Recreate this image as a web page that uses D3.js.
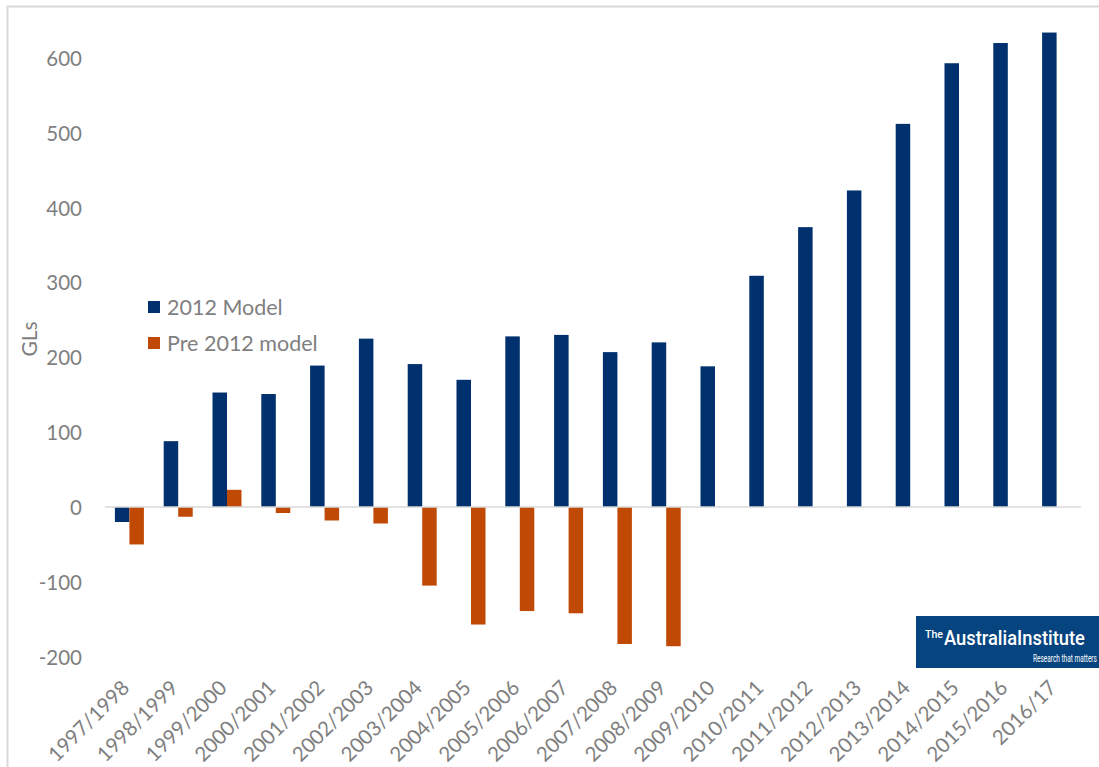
<!DOCTYPE html>
<html>
<head>
<meta charset="utf-8">
<script src="https://cdn.jsdelivr.net/npm/d3@7"></script>
<style>
  html, body { margin: 0; padding: 0; background: #fff; }
  svg { display: block; }
</style>
</head>
<body>
<svg id="chart" width="1099" height="767"></svg>
<script>
const categories = ["1997/1998","1998/1999","1999/2000","2000/2001","2001/2002","2002/2003","2003/2004","2004/2005","2005/2006","2006/2007","2007/2008","2008/2009","2009/2010","2010/2011","2011/2012","2012/2013","2013/2014","2014/2015","2015/2016","2016/17"];
const model2012 = [-20, 88, 153, 151, 189, 225, 191, 170, 228, 230, 207, 220, 188, 309, 374, 423, 512, 593, 620, 634];
const pre2012 = [-50, -13, 23, -8, -18, -22, -105, -157, -139, -142, -183, -186, null, null, null, null, null, null, null, null];
const seriesNames = ["2012 Model", "Pre 2012 model"];
const seriesColors = ["#00306e", "#c04a05"];
const yTicks = [-200, -100, 0, 100, 200, 300, 400, 500, 600];
const yLabel = "GLs";

const svg = d3.select("#chart");
const font = "Lato, 'Open Sans', sans-serif";
const textColor = "#7f7f7f";

// outer frame
svg.append("rect").attr("x", 7.5).attr("y", 6.5).attr("width", 1200).attr("height", 1000)
  .attr("fill", "none").attr("stroke", "#d9d9d9").attr("stroke-width", 2);

const x = d3.scaleBand().domain(categories).range([105, 1081]).paddingInner(0).paddingOuter(0);
const y = d3.scaleLinear().domain([-200, 600]).range([656.7, 58]);

const groupFrac = 29 / 48.8;
const inner = d3.scaleBand().domain([0, 1])
  .range([0, x.bandwidth()])
  .paddingInner(0).paddingOuter((1 - groupFrac) / groupFrac);

// y axis
const yAxis = d3.axisLeft(y).tickValues(yTicks).tickSize(0).tickPadding(0).tickFormat(d => String(d));
const gy = svg.append("g").attr("transform", "translate(82,0)").call(yAxis);
gy.select(".domain").remove();
gy.selectAll("text").attr("font-family", font).attr("font-size", 20.5).attr("fill", textColor)
  .attr("dy", "0.36em");

svg.append("text").attr("transform", "translate(37,339) rotate(-90)")
  .attr("text-anchor", "middle").attr("font-family", font).attr("font-size", 21)
  .attr("fill", textColor).text(yLabel);

// bars
const series = [model2012, pre2012];
series.forEach((vals, si) => {
  svg.append("g").selectAll("rect")
    .data(categories.map((c, i) => ({ c, v: vals[i] })).filter(d => d.v !== null))
    .join("rect")
    .attr("x", d => x(d.c) + inner(si))
    .attr("width", inner.bandwidth())
    .attr("y", d => y(Math.max(0, d.v)))
    .attr("height", d => Math.abs(y(d.v) - y(0)))
    .attr("fill", seriesColors[si]);
});

// zero line
svg.append("line").attr("x1", 105).attr("x2", 1081).attr("y1", y(0)).attr("y2", y(0))
  .attr("stroke", "#d9d9d9").attr("stroke-width", 1.5);

// x axis labels
const xAxis = d3.axisBottom(x).tickSize(0).tickPadding(0);
const gx = svg.append("g").attr("transform", "translate(0,672)").call(xAxis);
gx.select(".domain").remove();
gx.selectAll("text").attr("font-family", font).attr("font-size", 20.5).attr("fill", textColor)
  .attr("text-anchor", "end").attr("dy", "0.7em")
  .attr("transform", "translate(-9,7) rotate(-45)");

// legend
const legend = svg.append("g").attr("transform", "translate(148,301)");
seriesNames.forEach((name, i) => {
  const g = legend.append("g").attr("transform", `translate(0,${i * 36})`);
  g.append("rect").attr("width", 12).attr("height", 12).attr("fill", seriesColors[i]);
  g.append("text").attr("x", 19).attr("y", 6).attr("dy", "0.36em")
    .attr("font-family", font).attr("font-size", 21.5).attr("fill", textColor).text(name);
});

// logo
const logo = svg.append("g").attr("transform", "translate(916,616)");
logo.append("rect").attr("width", 183).attr("height", 52).attr("fill", "#06447f");
function squeezed(txt, x0, y0, size, weight, target) {
  const t = logo.append("text").attr("fill", "#fff")
    .attr("font-family", "Roboto, sans-serif").attr("font-weight", weight)
    .attr("font-size", size).text(txt);
  const w = t.node().getComputedTextLength();
  const s = Math.min(1, target / w);
  t.attr("transform", `translate(${x0},${y0}) scale(${s},1)`);
}
squeezed("The", 9, 22, 11, 500, 18);
squeezed("AustraliaInstitute", 28, 29, 21, 500, 141);
squeezed("Research that matters", 117, 46, 10, 400, 64);
</script>
</body>
</html>
